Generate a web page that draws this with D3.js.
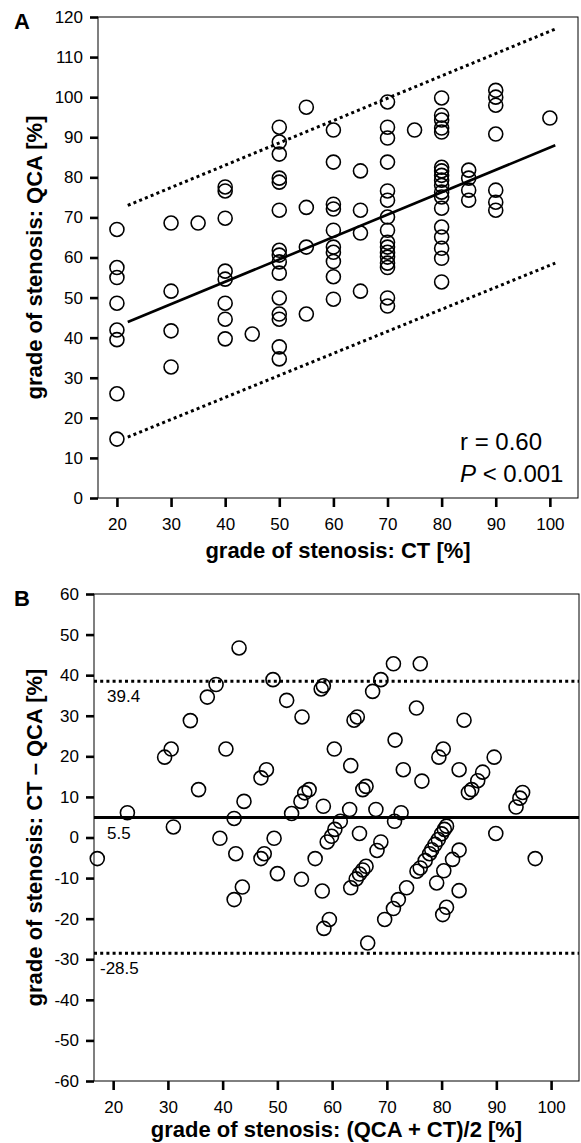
<!DOCTYPE html>
<html>
<head>
<meta charset="utf-8">
<script src="https://cdn.jsdelivr.net/npm/d3@7"></script>
<style>
  body { margin: 0; background: #fff; }
  text { font-family: "Liberation Sans", Arial, sans-serif; fill: #000; }
</style>
</head>
<body>
<svg id="fig" width="581" height="1143"></svg>
<script>
// panel A: QCA grade, grouped by CT grade
var qcaByCT = [
    [20, [67, 57.5, 55, 48.6, 41.9, 39.5, 26, 14.7]],
    [30, [68.6, 51.6, 41.7, 32.7]],
    [35, [68.6]],
    [40, [77.6, 76.6, 69.8, 56.6, 54.6, 48.6, 44.6, 39.7]],
    [45, [40.9]],
    [50, [92.5, 88.8, 85.8, 79.8, 78.8, 71.8, 61.8, 60.6, 58.9, 56.1, 49.9, 45.9, 44.6, 37.7, 34.7]],
    [55, [97.5, 72.5, 62.6, 45.9]],
    [60, [91.8, 83.8, 73.3, 72.1, 66.8, 62.6, 61.3, 59.0, 55.2, 49.6]],
    [65, [81.6, 71.8, 66.1, 51.6]],
    [70, [98.8, 92.5, 89.8, 83.8, 76.6, 74.3, 70.1, 66.8, 63.8, 62.6, 61.3, 60.1, 58.6, 57.5, 49.9, 47.9]],
    [75, [91.8]],
    [80, [99.8, 95.5, 94.3, 92.3, 91.3, 82.5, 81.6, 80.5, 79.3, 78, 76.3, 75.1, 72.3, 67.6, 65.1, 62.3, 59.8, 53.9]],
    [85, [81.8, 79.8, 76.8, 74.3]],
    [90, [101.7, 100, 98, 90.8, 76.8, 73.8, 71.8]],
    [100, [94.8]]
];
var fitX = [22, 101];
var fitMid = [43.9, 88];
var fitUpper = [73, 117];
var fitLower = [15.2, 58.6];

// panel B: Bland-Altman
var baMean = [43.0, 38.8, 37.2, 34.1, 30.6, 29.4, 40.6, 49.2, 51.7, 54.5,
    58.4, 58.0, 60.4, 48.0, 47.0, 35.6, 55.8, 55.0, 54.3, 52.6,
    58.4, 43.9, 42.1, 22.6, 31.0, 17.1, 39.5, 42.4, 43.6, 42.1,
    47.6, 47.0, 49.4, 50.0, 54.4, 56.9, 58.2, 59.5, 58.5, 59.1,
    59.9, 60.5, 61.5, 71.2, 76.1, 68.9, 67.4, 75.4, 64.6, 64.0,
    84.1, 71.5, 80.3, 79.5, 89.6, 63.4, 73.0, 83.2, 76.4, 87.5,
    86.6, 85.5, 84.9, 66.2, 65.6, 94.8, 94.3, 93.6, 63.2, 68.0,
    72.6, 71.4, 65.0, 68.9, 68.2, 63.4, 64.4, 65.0, 65.6, 66.2,
    73.6, 72.1, 71.2, 69.6, 66.5, 75.5, 76.1, 77.0, 77.8, 78.2,
    78.8, 79.4, 80.0, 80.5, 80.9, 83.2, 82.0, 80.4, 79.1, 83.2,
    80.9, 80.2, 89.9, 97.1];
var baDiff = [46.7, 37.7, 34.6, 28.8, 21.8, 19.8, 21.8, 38.9, 33.8, 29.7,
    37.4, 36.6, 21.8, 16.7, 14.7, 11.8, 11.8, 11.0, 8.9, 5.9,
    7.7, 8.9, 4.7, 6.1, 2.6, -5.2, -0.2, -4.0, -12.2, -15.3,
    -4.0, -5.2, -0.2, -8.9, -10.3, -5.2, -13.2, -20.2, -22.4, -1.1,
    0.3, 2.0, 4.0, 42.8, 42.8, 38.9, 36.0, 31.9, 29.7, 28.9,
    28.9, 24.0, 21.8, 19.8, 19.8, 17.7, 16.7, 16.7, 13.9, 16.1,
    14.0, 11.8, 11.1, 12.6, 11.8, 11.1, 9.7, 7.5, 6.9, 6.9,
    6.1, 4.0, 1.0, -1.1, -3.2, -12.4, -10.2, -9.0, -8.0, -7.1,
    -12.4, -15.3, -17.5, -20.2, -26.0, -8.3, -7.5, -5.7, -4.0, -3.0,
    -1.7, -0.5, 0.9, 2.0, 2.8, -3.1, -5.4, -8.2, -11.2, -13.1,
    -17.2, -19.0, 1.0, -5.2];
var baLevels = [38.5, 4.9, -28.5];
var baLabels = ['39.4', '5.5', '-28.5'];
var baDotted = [true, false, true];

var xTicks = [20, 30, 40, 50, 60, 70, 80, 90, 100];
var yTicksA = [0, 10, 20, 30, 40, 50, 60, 70, 80, 90, 100, 110, 120];
var yTicksB = [-60, -50, -40, -30, -20, -10, 0, 10, 20, 30, 40, 50, 60];

var svg = d3.select('#fig');

function frame(x, y, yTicks, xTitle, yTitle, letter, titleGap) {
    var x0 = x.range()[0], x1 = x.range()[1],
        y0 = y.range()[0], y1 = y.range()[1];
    var g = svg.append('g');

    g.append('rect')
        .attr('x', x0).attr('y', y1)
        .attr('width', x1 - x0).attr('height', y0 - y1)
        .attr('fill', 'none').attr('stroke', '#000').attr('stroke-width', 1);

    var ax = g.append('g')
        .attr('transform', 'translate(0,' + y0 + ')')
        .call(d3.axisBottom(x).tickValues(xTicks).tickSize(9).tickPadding(11)
            .tickSizeOuter(0).tickFormat(String));
    var ay = g.append('g')
        .attr('transform', 'translate(' + x0 + ',0)')
        .call(d3.axisLeft(y).tickValues(yTicks).tickSize(8).tickPadding(7)
            .tickSizeOuter(0).tickFormat(String));

    [ax, ay].forEach(function(a) {
        a.select('.domain').remove();
        a.selectAll('.tick line').attr('stroke', '#000').attr('stroke-width', 2.6);
        a.selectAll('.tick text').attr('font-size', 17).attr('fill', '#000')
            .style('font-family', '"Liberation Sans", Arial, sans-serif');
    });

    g.append('text')
        .attr('x', (x0 + x1) / 2).attr('y', y0 + titleGap)
        .attr('text-anchor', 'middle')
        .attr('font-size', 22).attr('font-weight', 'bold')
        .text(xTitle);
    g.append('text')
        .attr('transform', 'translate(42,' + (y0 + y1) / 2 + ') rotate(-90)')
        .attr('text-anchor', 'middle')
        .attr('font-size', 22).attr('font-weight', 'bold')
        .text(yTitle);
    g.append('text')
        .attr('x', 14).attr('y', y1 + 12)
        .attr('font-size', 22).attr('font-weight', 'bold')
        .text(letter);
    return g;
}

function circles(g, pts, x, y) {
    g.append('g').selectAll('circle')
        .data(pts)
        .enter().append('circle')
        .attr('cx', function(d) { return x(d[0]); })
        .attr('cy', function(d) { return y(d[1]); })
        .attr('r', 7)
        .attr('fill', 'none')
        .attr('stroke', '#000')
        .attr('stroke-width', 1.6);
}

// ---- panel A
var xA = d3.scaleLinear().domain([16.5, 105.2]).range([98, 578]);
var yA = d3.scaleLinear().domain([0, 120]).range([498, 17]);
var gA = frame(xA, yA, yTicksA, 'grade of stenosis: CT [%]', 'grade of stenosis: QCA [%]', 'A', 60);

var ptsA = [];
qcaByCT.forEach(function(col) {
    col[1].forEach(function(v) { ptsA.push([col[0], v]); });
});
circles(gA, ptsA, xA, yA);

[[fitMid, false], [fitUpper, true], [fitLower, true]].forEach(function(l) {
    gA.append('line')
        .attr('x1', xA(fitX[0])).attr('y1', yA(l[0][0]))
        .attr('x2', xA(fitX[1])).attr('y2', yA(l[0][1]))
        .attr('stroke', '#000')
        .attr('stroke-width', l[1] ? 3 : 2.6)
        .attr('stroke-dasharray', l[1] ? '3,3.2' : null);
});

gA.append('text').attr('x', 460).attr('y', 450).attr('font-size', 24).text('r = 0.60');
var pt = gA.append('text').attr('x', 460).attr('y', 482).attr('font-size', 24);
pt.append('tspan').attr('font-style', 'italic').text('P');
pt.append('tspan').text(' < 0.001');

// ---- panel B
var xB = d3.scaleLinear().domain([16.5, 105.1]).range([94, 579]);
var yB = d3.scaleLinear().domain([-60, 60]).range([1081, 594]);
var gB = frame(xB, yB, yTicksB, 'grade of stenosis: (QCA + CT)/2 [%]', 'grade of stenosis: CT \u2013 QCA [%]', 'B', 56);

baLevels.forEach(function(v, i) {
    gB.append('line')
        .attr('x1', xB.range()[0]).attr('x2', xB.range()[1])
        .attr('y1', yB(v)).attr('y2', yB(v))
        .attr('stroke', '#000').attr('stroke-width', 3)
        .attr('stroke-dasharray', baDotted[i] ? '3,3.2' : null);
    gB.append('text')
        .attr('x', xB.range()[0] + (baLabels[i].charAt(0) === '-' ? 6 : 13))
        .attr('y', yB(v) + 21)
        .attr('font-size', 17)
        .text(baLabels[i]);
});

circles(gB, baMean.map(function(m, i) { return [m, baDiff[i]]; }), xB, yB);
</script>
</body>
</html>
